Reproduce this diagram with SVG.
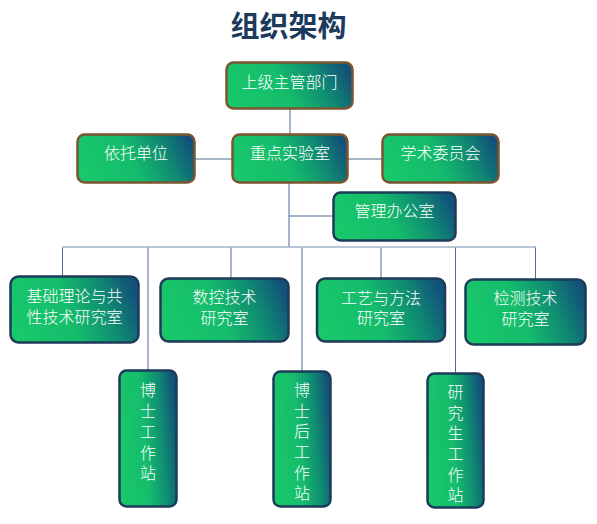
<svg xmlns="http://www.w3.org/2000/svg" width="597" height="524" viewBox="0 0 597 524">
<defs>
<linearGradient id="g" x1="0" y1="0.6" x2="1" y2="0.4">
<stop offset="0" stop-color="#18c86a"/>
<stop offset="0.45" stop-color="#15bc6c"/>
<stop offset="0.75" stop-color="#0f8c72"/>
<stop offset="1" stop-color="#12527a"/>
</linearGradient>
<style>
.box{fill:url(#g);stroke-width:2.5}
.brown{stroke:#7a5530}
.navy{stroke:#1d3b58}
.t{font-family:"Liberation Sans","Noto Sans CJK SC","Noto Sans CJK JP",sans-serif;font-size:16px;font-weight:300;fill:#ffffff;text-anchor:middle}
.c{stroke:#4d6b8e;stroke-width:1;fill:none}
.bus{stroke:#a3b5cb;stroke-width:1.6;fill:none}
.title{font-family:"Noto Sans CJK SC","Noto Sans CJK JP",sans-serif;font-size:29px;font-weight:700;fill:#1b3a5c;text-anchor:middle}
</style>
</defs>
<rect width="597" height="524" fill="#ffffff"/>
<text class="title" x="288.5" y="37">组织架构</text>
<g id="connectors">
<line class="c" x1="290" y1="109" x2="290" y2="134"/>
<line class="c" x1="195" y1="159" x2="232" y2="159"/>
<line class="c" x1="348" y1="159" x2="382" y2="159"/>
<line class="c" x1="289" y1="183" x2="289" y2="247"/>
<line class="c" x1="289" y1="216" x2="333" y2="216"/>
<line class="c" x1="62.5" y1="247" x2="62.5" y2="276"/>
<line class="c" x1="148" y1="247" x2="148" y2="370"/>
<line class="c" x1="231" y1="247" x2="231" y2="278"/>
<line class="c" x1="302" y1="247" x2="302" y2="371"/>
<line class="c" x1="381" y1="247" x2="381" y2="278"/>
<line class="c" x1="455.5" y1="247" x2="455.5" y2="373"/>
<line class="c" x1="535.5" y1="247" x2="535.5" y2="279"/>
<line class="bus" x1="62" y1="247" x2="536" y2="247"/>
</g>
<g id="n-shangji">
<rect class="box brown" x="226.5" y="62.5" width="126" height="46" rx="7"/>
<text class="t" x="289.5" y="88">上级主管部门</text>
</g>
<g id="n-yituo">
<rect class="box brown" x="77.5" y="134.5" width="117" height="48" rx="7"/>
<text class="t" x="136" y="159">依托单位</text>
</g>
<g id="n-zhongdian">
<rect class="box brown" x="232.5" y="134.5" width="115" height="48" rx="7"/>
<text class="t" x="290" y="159">重点实验室</text>
</g>
<g id="n-xueshu">
<rect class="box brown" x="382.5" y="134.5" width="116" height="48" rx="7"/>
<text class="t" x="440.5" y="159">学术委员会</text>
</g>
<g id="n-guanli">
<rect class="box navy" x="333.5" y="192.5" width="122" height="48" rx="7"/>
<text class="t" x="394.5" y="217">管理办公室</text>
</g>
<g id="n-jichu">
<rect class="box navy" x="10.5" y="276.5" width="128" height="66" rx="8"/>
<text class="t"><tspan x="74.5" y="302">基础理论与共</tspan><tspan x="74.5" y="323">性技术研究室</tspan></text>
</g>
<g id="n-shukong">
<rect class="box navy" x="160.5" y="278.5" width="128" height="63" rx="8"/>
<text class="t"><tspan x="224.5" y="303">数控技术</tspan><tspan x="224.5" y="324">研究室</tspan></text>
</g>
<g id="n-gongyi">
<rect class="box navy" x="317" y="278.5" width="128" height="63" rx="8"/>
<text class="t"><tspan x="381" y="304">工艺与方法</tspan><tspan x="381" y="324">研究室</tspan></text>
</g>
<g id="n-jiance">
<rect class="box navy" x="465.5" y="279.5" width="120" height="65" rx="8"/>
<text class="t"><tspan x="525.5" y="304">检测技术</tspan><tspan x="525.5" y="325">研究室</tspan></text>
</g>
<g id="n-boshi">
<rect class="box navy" x="119.5" y="370.5" width="57" height="136" rx="7"/>
<text class="t"><tspan x="148" y="396">博</tspan><tspan x="148" y="417">士</tspan><tspan x="148" y="438">工</tspan><tspan x="148" y="459">作</tspan><tspan x="148" y="479">站</tspan></text>
</g>
<g id="n-boshihou">
<rect class="box navy" x="273.5" y="371.5" width="57" height="135" rx="7"/>
<text class="t"><tspan x="302" y="396">博</tspan><tspan x="302" y="417">士</tspan><tspan x="302" y="437">后</tspan><tspan x="302" y="458">工</tspan><tspan x="302" y="479">作</tspan><tspan x="302" y="499">站</tspan></text>
</g>
<g id="n-yanjiusheng">
<rect class="box navy" x="427.5" y="373.5" width="56" height="134" rx="7"/>
<text class="t"><tspan x="455.5" y="398">研</tspan><tspan x="455.5" y="419">究</tspan><tspan x="455.5" y="439">生</tspan><tspan x="455.5" y="460">工</tspan><tspan x="455.5" y="481">作</tspan><tspan x="455.5" y="501">站</tspan></text>
</g>
</svg>
